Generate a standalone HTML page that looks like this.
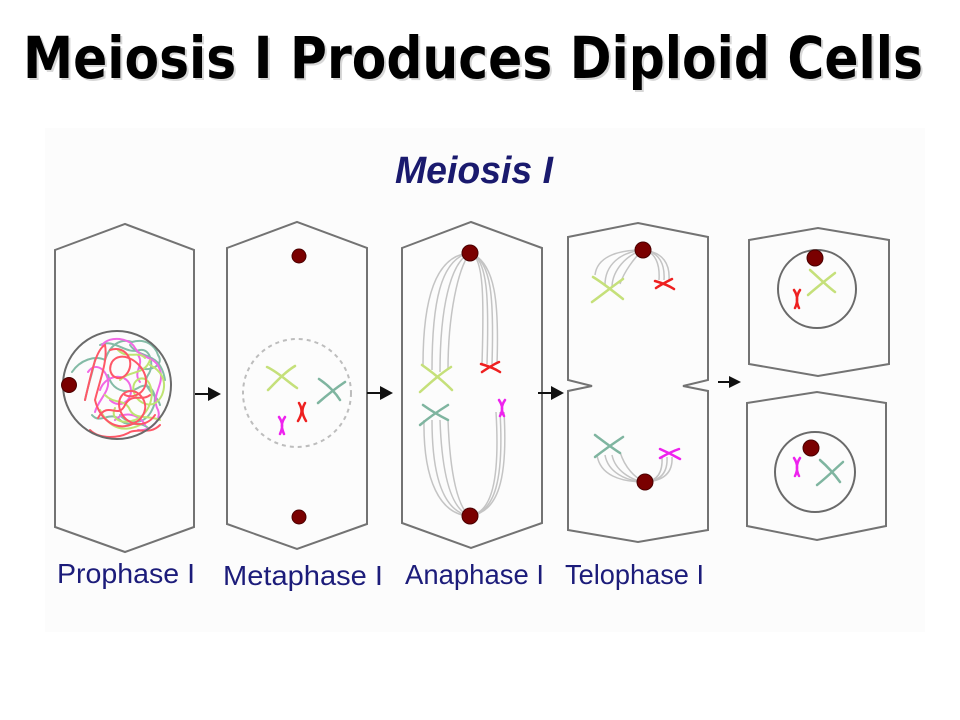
<!DOCTYPE html>
<html><head><meta charset="utf-8"><style>
html,body{margin:0;padding:0;background:#fff;width:960px;height:720px;overflow:hidden}
svg{display:block}
</style></head><body>
<svg width="960" height="720" viewBox="0 0 960 720" xmlns="http://www.w3.org/2000/svg">
<rect width="960" height="720" fill="#fff"/>
<rect x="45" y="128" width="880" height="504" fill="#fcfcfc"/>

<!-- Title -->
<text x="25" y="80" font-family="DejaVu Sans, sans-serif" font-weight="bold" font-size="58" fill="#b0b0b0" opacity="0.5" textLength="900" lengthAdjust="spacingAndGlyphs">Meiosis I Produces Diploid Cells</text>
<text x="23" y="78" font-family="DejaVu Sans, sans-serif" font-weight="bold" font-size="58" fill="#000" textLength="900" lengthAdjust="spacingAndGlyphs">Meiosis I Produces Diploid Cells</text>

<text x="395" y="183" font-family="Liberation Sans, sans-serif" font-weight="bold" font-style="italic" font-size="38" fill="#1a1a6e" textLength="158" lengthAdjust="spacingAndGlyphs">Meiosis I</text>

<g fill="none" stroke="#737373" stroke-width="2" stroke-linejoin="miter">
<polygon points="55,250 125,224 194,250 194,527 125,552 55,527"/>
<polygon points="227,248 297,222 367,248 367,524 297,549 227,524"/>
<polygon points="402,248 471,222 542,248 542,523 471,548 402,523"/>
<polygon points="568,237 638,223 708,237 708,380 683,386 708,391 708,530 638,542 568,530 568,391 592,386 568,380"/>
<polygon points="749,240 818,228 889,240 889,364 818,376 749,364"/>
<polygon points="747,403 817,392 886,403 886,526 817,540 747,526"/>
</g>

<!-- Arrows -->
<g stroke="#111" stroke-width="2">
<line x1="195" y1="394" x2="210" y2="394"/>
<line x1="367" y1="393" x2="382" y2="393"/>
<line x1="538" y1="393" x2="553" y2="393"/>
<line x1="718" y1="382" x2="731" y2="382"/>
</g>
<g fill="#111">
<polygon points="208,387 221,394 208,401"/>
<polygon points="380,386 393,393 380,400"/>
<polygon points="551,386 564,393 551,400"/>
<polygon points="729,376 741,382 729,388"/>
</g>

<!-- Prophase nucleus -->
<g fill="none" stroke-width="2" stroke-linecap="round" opacity="0.85">
<path stroke="#70b098" d="M72,372 C80,360 95,355 105,360 C110,345 120,338 132,342 C145,338 155,345 158,355 C165,365 150,372 140,368"/>
<path stroke="#70b098" d="M108,375 C112,390 125,395 138,388 C150,380 160,395 152,410 C145,425 128,425 120,415"/>
<path stroke="#70b098" d="M95,360 C92,375 88,385 85,400 M130,345 C140,360 160,350 165,380"/>
<path stroke="#70b098" d="M100,345 C115,338 125,355 140,350 C150,348 155,365 148,375 C140,388 158,395 160,405 M92,415 C100,425 110,410 120,420 C128,428 140,420 148,428"/>
<path stroke="#f050e0" d="M102,345 C110,335 130,338 135,348 C142,360 155,355 160,370 C165,385 150,395 158,410 C162,420 150,432 138,430"/>
<path stroke="#f050e0" d="M100,390 C105,375 125,372 130,385 C135,400 120,410 110,400 M115,420 C125,410 140,415 145,425"/>
<path stroke="#f050e0" d="M88,372 C95,362 105,368 108,380 C110,392 98,400 95,412 M138,355 C145,365 132,372 140,382"/>
<path stroke="#b5e05a" d="M150,365 C160,370 168,380 162,395 C155,410 140,405 135,395 C128,380 145,372 150,385 C155,398 148,415 135,420 C120,425 110,418 115,408"/>
<path stroke="#b5e05a" d="M120,380 C130,370 145,375 150,360 M100,410 C110,430 125,432 140,425"/>
<path stroke="#b5e05a" d="M118,350 C128,360 138,350 145,358 M105,395 C115,405 125,398 130,410 C135,420 150,415 160,420"/>
<path stroke="#ff3b4e" d="M85,400 C90,380 95,350 105,345 C108,360 100,380 95,400 C100,420 115,430 130,425 C145,420 150,405 140,395 C130,385 115,395 120,410 C125,425 145,430 155,415"/>
<path stroke="#ff3b4e" d="M110,350 C125,345 135,360 128,372 C120,385 105,375 112,362 C120,350 140,360 145,375 C150,390 135,400 125,395"/>
<path stroke="#ff3b4e" d="M90,430 C100,440 120,438 130,432 C140,428 150,435 160,425"/>
<path stroke="#ff3b4e" d="M98,418 C108,400 118,420 125,405 C132,392 142,402 150,395"/>
</g>
<circle cx="117" cy="385" r="54" fill="none" stroke="#6a6a6a" stroke-width="2"/>

<!-- Metaphase -->
<circle cx="297" cy="393" r="54" fill="none" stroke="#bdbdbd" stroke-width="2" stroke-dasharray="4,4"/>
<g fill="none" stroke-width="2.5" stroke-linecap="round">
<path stroke="#c5e07a" d="M267,367 C278,372 288,382 297,388 M295,366 C285,372 276,382 268,390"/>
<path stroke="#7fb5a0" d="M319,379 C328,385 335,392 340,400 M345,382 C336,388 326,396 318,403"/>
<path stroke="#ee2020" d="M299,403 C303,410 302,414 298,421 M305,403 C301,410 302,414 306,421"/>
<path stroke="#ee22ee" d="M279,417 C283,423 283,427 280,434 M285,417 C281,423 281,427 284,434"/>
</g>

<!-- Anaphase fibers -->
<g fill="none" stroke="#c4c4c4" stroke-width="1.5">
<path d="M470,253 C435,255 423,300 423,365"/>
<path d="M470,253 C440,258 432,305 432,370"/>
<path d="M470,253 C450,262 440,310 440,372"/>
<path d="M470,253 C458,268 448,315 448,370"/>
<path d="M470,253 C484,256 484,300 482,364"/>
<path d="M470,253 C488,258 489,300 487,364"/>
<path d="M470,253 C492,260 494,300 492,364"/>
<path d="M470,253 C496,262 499,305 497,364"/>
<path d="M424,420 C423,480 440,515 470,516"/>
<path d="M432,420 C432,480 445,512 470,516"/>
<path d="M440,420 C442,478 452,510 470,516"/>
<path d="M448,420 C450,475 458,508 470,516"/>
<path d="M496,412 C500,480 492,512 470,516"/>
<path d="M500,412 C504,480 495,512 470,516"/>
<path d="M504,412 C508,480 498,512 470,516"/>
</g>
<g fill="none" stroke-width="2.5" stroke-linecap="round">
<path stroke="#c5e07a" d="M422,365 C432,372 444,382 452,390 M451,367 C440,374 430,383 420,392"/>
<path stroke="#ee2020" d="M481,364 C488,366 494,368 500,372 M482,372 C488,368 494,364 499,362"/>
<path stroke="#7fb5a0" d="M423,405 C430,410 438,415 448,420 M448,405 C440,410 432,415 420,425"/>
<path stroke="#ee22ee" d="M499,400 C503,406 503,410 500,416 M505,400 C501,406 501,410 504,416"/>
</g>

<!-- Telophase fibers -->
<g fill="none" stroke="#c4c4c4" stroke-width="1.5">
<path d="M643,250 C615,250 597,258 595,275"/>
<path d="M643,250 C620,252 605,265 605,285"/>
<path d="M643,250 C626,255 613,270 612,286"/>
<path d="M643,250 C634,258 624,272 620,284"/>
<path d="M643,250 C656,252 660,265 659,280"/>
<path d="M643,250 C660,252 665,265 664,280"/>
<path d="M643,250 C664,252 670,265 669,280"/>
<path d="M597,455 C600,475 620,482 645,482"/>
<path d="M605,455 C608,472 625,481 645,482"/>
<path d="M612,455 C615,470 630,480 645,482"/>
<path d="M620,452 C625,468 635,478 645,482"/>
<path d="M662,457 C663,474 656,481 645,482"/>
<path d="M667,457 C668,474 659,481 645,482"/>
<path d="M672,457 C673,474 662,481 645,482"/>
</g>
<g fill="none" stroke-width="2.5" stroke-linecap="round">
<path stroke="#c5e07a" d="M593,277 C603,283 613,291 623,299 M623,279 C613,286 603,294 592,302"/>
<path stroke="#ee2020" d="M655,281 C662,283 668,285 674,289 M656,288 C662,284 668,281 672,279"/>
<path stroke="#7fb5a0" d="M595,435 C603,441 612,448 620,453 M623,437 C614,443 604,450 595,457"/>
<path stroke="#ee22ee" d="M660,449 C667,452 673,455 680,459 M660,458 C667,454 673,451 679,449"/>
</g>

<!-- Daughter cells -->
<circle cx="817" cy="289" r="39" fill="none" stroke="#6a6a6a" stroke-width="2"/>
<circle cx="815" cy="472" r="40" fill="none" stroke="#6a6a6a" stroke-width="2"/>
<g fill="none" stroke-width="2.5" stroke-linecap="round">
<path stroke="#c5e07a" d="M810,270 C818,277 827,286 835,292 M835,273 C826,280 816,288 808,295"/>
<path stroke="#ee2020" d="M794,290 C798,296 798,302 795,308 M800,290 C796,296 796,302 799,308"/>
<path stroke="#ee22ee" d="M794,458 C798,464 798,470 795,476 M800,458 C796,464 796,470 799,476"/>
<path stroke="#7fb5a0" d="M820,460 C828,467 835,475 840,482 M843,462 C834,470 826,478 817,485"/>
</g>

<!-- Centrosome dots -->
<g fill="#7a0000" stroke="#4a0000" stroke-width="1">
<circle cx="69" cy="385" r="7.5"/>
<circle cx="299" cy="256" r="7"/>
<circle cx="299" cy="517" r="7"/>
<circle cx="470" cy="253" r="8"/>
<circle cx="470" cy="516" r="8"/>
<circle cx="643" cy="250" r="8"/>
<circle cx="645" cy="482" r="8"/>
<circle cx="815" cy="258" r="8"/>
<circle cx="811" cy="448" r="8"/>
</g>

<!-- Labels -->
<g font-family="Liberation Sans, Arial, sans-serif" font-size="28" fill="#1c1c7a">
<text x="57" y="583" textLength="138" lengthAdjust="spacingAndGlyphs">Prophase I</text>
<text x="223" y="585" textLength="160" lengthAdjust="spacingAndGlyphs">Metaphase I</text>
<text x="405" y="584" textLength="139" lengthAdjust="spacingAndGlyphs">Anaphase I</text>
<text x="565" y="584" textLength="139" lengthAdjust="spacingAndGlyphs">Telophase I</text>
</g>
</svg>
</body></html>
